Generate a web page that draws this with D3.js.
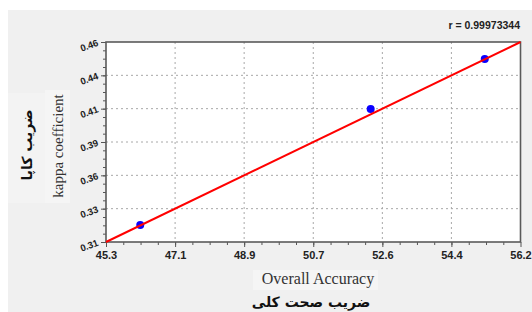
<!DOCTYPE html>
<html>
<head>
<meta charset="utf-8">
<script src="https://cdn.jsdelivr.net/npm/d3@7"></script>
<style>
  body { margin: 0; background: #fff; }
  svg { display: block; }
</style>
</head>
<body>
<div id="wrapper"></div>
<script>
// data
const accuracy = [46.2, 52.26, 55.26];
const kappa = [0.3228, 0.4098, 0.4473];

// fitted line end points
const fitX = [45.3, 56.2];
const fitY = [0.31, 0.46];

const xTickValues = [45.3, 47.117, 48.933, 50.75, 52.567, 54.383, 56.2];
const xTickLabels = ["45.3", "47.1", "48.9", "50.7", "52.6", "54.4", "56.2"];
const yTickValues = [0.31, 0.335, 0.36, 0.385, 0.41, 0.435, 0.46];
const yTickLabels = ["0.31", "0.33", "0.36", "0.39", "0.41", "0.44", "0.46"];

const rLabel = "r = 0.99973344";
const xTitle = "Overall Accuracy";
const xTitleFa = "ضریب صحت کلی";
const yTitle = "kappa coefficient";
const yTitleFa = "ضریب کاپا";

const dimensions = {
  width: 532,
  height: 312,
  margin: { top: 42, right: 11.5, bottom: 70, left: 106 }
};
dimensions.boundedWidth = dimensions.width - dimensions.margin.left - dimensions.margin.right;
dimensions.boundedHeight = dimensions.height - dimensions.margin.top - dimensions.margin.bottom;

const wrapper = d3.select("#wrapper")
  .append("svg")
  .attr("width", dimensions.width)
  .attr("height", dimensions.height);

// grey panel
wrapper.append("rect")
  .attr("x", 8).attr("y", 10)
  .attr("width", dimensions.width - 8)
  .attr("height", dimensions.height - 10)
  .attr("fill", "#f0f0f0");

// faint boxes behind the titles
wrapper.append("rect").attr("x", 8).attr("y", 93).attr("width", 37).attr("height", 110).attr("fill", "#f3f3f3");
wrapper.append("rect").attr("x", 45).attr("y", 90).attr("width", 25).attr("height", 113).attr("fill", "#f5f5f5");
wrapper.append("rect").attr("x", 253).attr("y", 270).attr("width", 125).attr("height", 20).attr("fill", "#f5f5f5");

const bounds = wrapper.append("g")
  .attr("transform", `translate(${dimensions.margin.left},${dimensions.margin.top})`);

const xScale = d3.scaleLinear()
  .domain([45.3, 56.2])
  .range([0, dimensions.boundedWidth]);

const yScale = d3.scaleLinear()
  .domain([0.31, 0.46])
  .range([dimensions.boundedHeight, 0]);

bounds.append("rect")
  .attr("width", dimensions.boundedWidth)
  .attr("height", dimensions.boundedHeight)
  .attr("fill", "#fff");

// grid
bounds.append("g")
  .selectAll("line")
  .data(xTickValues.slice(1, -1))
  .join("line")
  .attr("x1", d => xScale(d)).attr("x2", d => xScale(d))
  .attr("y1", 0).attr("y2", dimensions.boundedHeight)
  .attr("stroke", "#a8a8a8")
  .attr("stroke-dasharray", "2,3");

bounds.append("g")
  .selectAll("line")
  .data(yTickValues.slice(1, -1))
  .join("line")
  .attr("y1", d => yScale(d)).attr("y2", d => yScale(d))
  .attr("x1", 0).attr("x2", dimensions.boundedWidth)
  .attr("stroke", "#a8a8a8")
  .attr("stroke-dasharray", "2,3");

// minor ticks
const xStep = (xTickValues[1] - xTickValues[0]) / 4;
const xMinor = d3.range(xTickValues[0], 56.2 + 1e-6, xStep);
const yStep = (yTickValues[1] - yTickValues[0]) / 4;
const yMinor = d3.range(yTickValues[0], 0.46 + 1e-6, yStep);

bounds.append("g")
  .attr("transform", `translate(0,${dimensions.boundedHeight})`)
  .call(d3.axisBottom(xScale).tickValues(xMinor).tickSize(3).tickFormat(""))
  .call(g => g.select(".domain").remove())
  .selectAll("line").attr("stroke", "#555");

bounds.append("g")
  .call(d3.axisLeft(yScale).tickValues(yMinor).tickSize(3).tickFormat(""))
  .call(g => g.select(".domain").remove())
  .selectAll("line").attr("stroke", "#555");

// major axes
const xAxis = bounds.append("g")
  .attr("transform", `translate(0,${dimensions.boundedHeight})`)
  .call(d3.axisBottom(xScale)
    .tickValues(xTickValues)
    .tickSize(5)
    .tickSizeOuter(0)
    .tickFormat((d, i) => xTickLabels[i]));
xAxis.select(".domain").remove();
xAxis.selectAll("line").attr("stroke", "#555");
xAxis.selectAll("text")
  .attr("y", 9)
  .attr("fill", "#222")
  .style("font-family", "'Liberation Sans', Arial, sans-serif")
  .style("font-size", "11px")
  .style("font-weight", "bold");

const yAxis = bounds.append("g")
  .call(d3.axisLeft(yScale)
    .tickValues(yTickValues)
    .tickSize(5)
    .tickSizeOuter(0)
    .tickFormat((d, i) => yTickLabels[i]));
yAxis.select(".domain").remove();
yAxis.selectAll("line").attr("stroke", "#555");
yAxis.selectAll("text")
  .attr("x", -8)
  .attr("dy", "0.32em")
  .attr("transform", "rotate(-20)")
  .attr("fill", "#222")
  .style("font-family", "'Liberation Sans', Arial, sans-serif")
  .style("font-size", "9.5px")
  .style("font-weight", "bold");
yAxis.selectAll(".tick text")
  .attr("transform", function () { return "rotate(-20, -8, 0)"; });

// frame
bounds.append("rect")
  .attr("width", dimensions.boundedWidth)
  .attr("height", dimensions.boundedHeight)
  .attr("fill", "none")
  .attr("stroke", "#5a5a5a")
  .attr("stroke-width", 1.6);

// points
bounds.append("g")
  .selectAll("circle")
  .data(accuracy)
  .join("circle")
  .attr("cx", d => xScale(d))
  .attr("cy", (d, i) => yScale(kappa[i]))
  .attr("r", 4)
  .attr("fill", "#0a00ff");

// fitted line
const lineGenerator = d3.line()
  .x(d => xScale(d))
  .y((d, i) => yScale(fitY[i]));

bounds.append("path")
  .attr("d", lineGenerator(fitX))
  .attr("fill", "none")
  .attr("stroke", "#ff0000")
  .attr("stroke-width", 2);

// labels
wrapper.append("text")
  .attr("x", 520).attr("y", 29)
  .attr("text-anchor", "end")
  .attr("fill", "#222")
  .style("font-family", "'Liberation Sans', Arial, sans-serif")
  .style("font-size", "10.5px")
  .style("font-weight", "bold")
  .text(rLabel);

wrapper.append("text")
  .attr("x", 318).attr("y", 284)
  .attr("text-anchor", "middle")
  .attr("fill", "#333")
  .style("font-family", "'Liberation Serif', 'Times New Roman', serif")
  .style("font-size", "16px")
  .text(xTitle);

wrapper.append("text")
  .attr("x", 311).attr("y", 307)
  .attr("text-anchor", "middle")
  .attr("direction", "rtl")
  .attr("fill", "#111")
  .style("font-family", "'DejaVu Sans', sans-serif")
  .style("font-size", "14px")
  .style("font-weight", "bold")
  .text(xTitleFa);

wrapper.append("text")
  .attr("transform", "translate(63,146) rotate(-90)")
  .attr("text-anchor", "middle")
  .attr("fill", "#333")
  .style("font-family", "'Liberation Serif', 'Times New Roman', serif")
  .style("font-size", "15px")
  .text(yTitle);

wrapper.append("text")
  .attr("transform", "translate(32,145) rotate(-90)")
  .attr("text-anchor", "middle")
  .attr("direction", "rtl")
  .attr("fill", "#111")
  .style("font-family", "'DejaVu Sans', sans-serif")
  .style("font-size", "14px")
  .style("font-weight", "bold")
  .text(yTitleFa);
</script>
</body>
</html>
